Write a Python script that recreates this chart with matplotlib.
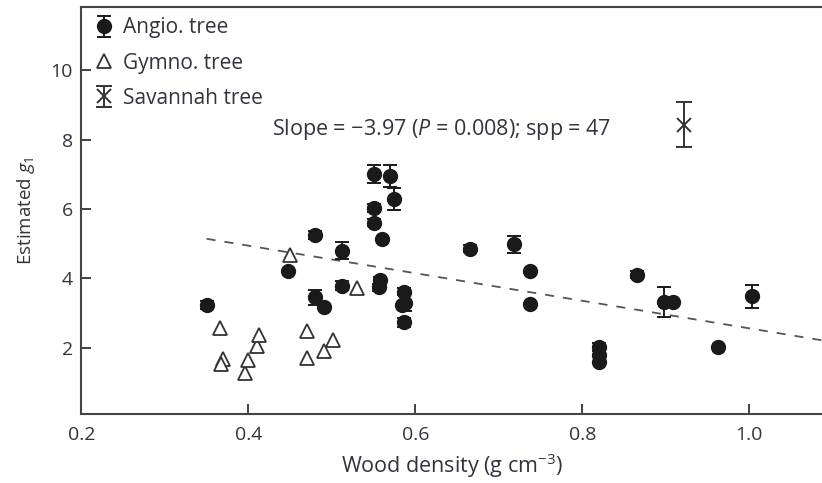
import matplotlib
matplotlib.use("Agg")
import matplotlib.pyplot as plt
import numpy as np

# Angio. tree (wood density, g1, error)
angio_x = [0.350, 0.448, 0.480, 0.512, 0.480, 0.490, 0.512, 0.551, 0.570, 0.574,
           0.550, 0.550, 0.560, 0.558, 0.556, 0.586, 0.588, 0.584, 0.586, 0.665,
           0.718, 0.737, 0.737, 0.820, 0.820, 0.820, 0.865, 0.898, 0.909, 0.963, 1.003]
angio_y = [3.24, 4.20, 5.24, 4.80, 3.45, 3.17, 3.79, 7.01, 6.94, 6.29,
           6.03, 5.60, 5.13, 3.95, 3.75, 3.62, 3.30, 3.22, 2.73, 4.85,
           4.98, 4.20, 3.27, 2.02, 1.80, 1.60, 4.10, 3.33, 3.33, 2.02, 3.48]
angio_err = [0.12, 0.0, 0.12, 0.25, 0.22, 0.0, 0.12, 0.26, 0.32, 0.32,
             0.12, 0.10, 0.0, 0.10, 0.10, 0.10, 0.25, 0.0, 0.12, 0.10,
             0.25, 0.0, 0.0, 0.12, 0.0, 0.0, 0.10, 0.43, 0.0, 0.0, 0.32]

# Gymno. tree
gymno_x = [0.366, 0.370, 0.367, 0.396, 0.400, 0.410, 0.413, 0.450, 0.470, 0.470, 0.490, 0.501, 0.530]
gymno_y = [2.57, 1.68, 1.52, 1.27, 1.65, 2.06, 2.37, 4.68, 2.47, 1.70, 1.92, 2.21, 3.72]

# Savannah tree
sav_x = [0.922]
sav_y = [8.43]
sav_err = [0.64]

# regression
slope = -3.97
x0, y0 = 0.35, 5.14
fit_x = [0.35, 1.087]

txt = '#33333f'
plt.rcParams['font.family'] = ['Open Sans', 'DejaVu Sans']
plt.rcParams['mathtext.fontset'] = 'custom'
plt.rcParams['mathtext.rm'] = 'Open Sans'
plt.rcParams['mathtext.it'] = 'Open Sans:italic'

fig = plt.figure(figsize=(8.22, 4.83), dpi=100)
ax = fig.add_axes([0.099, 0.1435, 0.901, 0.842])

fit_y = [y0 + slope * (x - x0) for x in fit_x]
ax.plot(fit_x, fit_y, ls=(0, (5, 5)), color='#555555', lw=1.3, zorder=1)

h1 = ax.errorbar(angio_x, angio_y, yerr=angio_err, fmt='o', color='#1a1a1a', ms=10,
                 capsize=5, elinewidth=1.4, capthick=1.4, label='Angio. tree', zorder=3)
h2, = ax.plot(gymno_x, gymno_y, '^', mfc='white', mec='#333333', mew=1.3, ms=10,
              ls='none', label='Gymno. tree', zorder=2)
h3 = ax.errorbar(sav_x, sav_y, yerr=sav_err, fmt='x', color='#333333', ms=10, mew=1.4,
                 capsize=6, elinewidth=1.4, capthick=1.4, label='Savannah tree', zorder=3)

ax.text(0.428, 8.28, 'Slope = \u22123.97 ($P$ = 0.008); spp = 47', fontsize=15.5,
        color=txt, va='center')

ax.set_xlim(0.2, 1.087)
ax.set_ylim(0.1, 11.82)
ax.set_xticks([0.2, 0.4, 0.6, 0.8, 1.0])
ax.set_xticklabels(['0.2', '0.4', '0.6', '0.8', '1.0'])
ax.set_yticks([2, 4, 6, 8, 10])
ax.tick_params(direction='in', length=7, width=1.3, labelsize=14, labelcolor=txt, color='#333333')
ax.tick_params(axis='x', pad=9)
ax.tick_params(axis='y', pad=6)
ax.spines['right'].set_visible(False)
for s in ['left', 'bottom', 'top']:
    ax.spines[s].set_linewidth(1.5)
    ax.spines[s].set_color('#444444')

ax.set_xlabel('Wood density (g cm$^{\u22123}$)', fontsize=15.5, color=txt, labelpad=5)
ax.set_ylabel('Estimated $g_1$', fontsize=13.5, color=txt, labelpad=10)

leg = ax.legend([h1, h2, h3], ['Angio. tree', 'Gymno. tree', 'Savannah tree'],
                loc='upper left', frameon=False, fontsize=15, handletextpad=0.3,
                labelspacing=0.68, borderaxespad=0.1, handlelength=1.2)
for t in leg.get_texts():
    t.set_color(txt)

fig.savefig('out.png', dpi=100)
